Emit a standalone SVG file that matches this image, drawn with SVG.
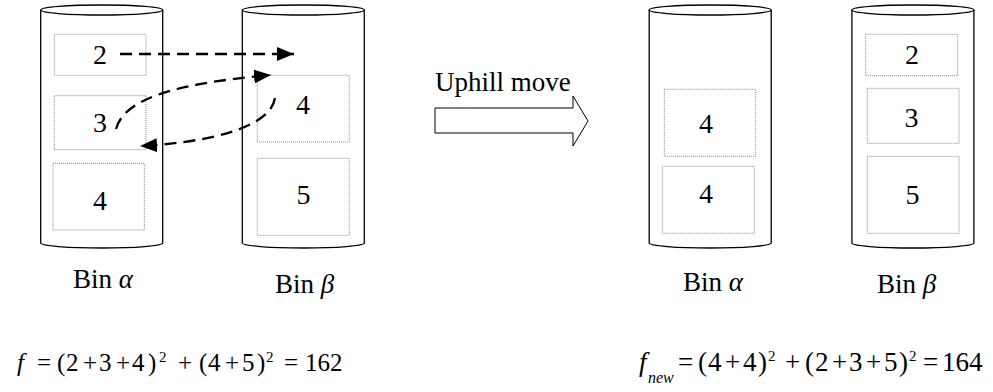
<svg xmlns="http://www.w3.org/2000/svg" width="993" height="392" viewBox="0 0 993 392">
<style>
  .cyl { fill: none; stroke: #000; stroke-width: 1.3; }
  .box { fill: none; stroke: #888; stroke-width: 1; stroke-dasharray: 1 1; }
  .num { font-family: "Liberation Serif", "Times New Roman", serif; font-size: 28px; fill: #000; text-anchor: middle; }
  .lbl { font-family: "Liberation Serif", "Times New Roman", serif; font-size: 27px; fill: #000; }
  .gr { font-style: italic; }
  .fl { font-family: "Liberation Serif", "Times New Roman", serif; font-size: 25px; fill: #000; }
  .fr { font-family: "Liberation Serif", "Times New Roman", serif; font-size: 27px; fill: #000; }
  .it { font-style: italic; }
  .sup { font-size: 15px; }
  .conn { fill: none; stroke: #000; stroke-width: 2.3; stroke-dasharray: 12 7; }
</style>
<defs>
  <marker id="ah" markerUnits="userSpaceOnUse" markerWidth="17" markerHeight="14" refX="17" refY="7" orient="auto">
    <path d="M0,0 L17,7 L0,14 z" fill="#000"/>
  </marker>
</defs>

<g id="binA-left">
  <ellipse class="cyl" cx="101.7" cy="10" rx="61" ry="5"/>
  <path class="cyl" d="M40.7,10 L40.7,243 A61,5 0 0 0 162.7,243 L162.7,10"/>
  <text class="lbl" x="73" y="288">Bin <tspan class="gr">α</tspan></text>
</g>
<g id="item-2-left">
  <rect class="box" x="54.3" y="34.3" width="91.7" height="41"/>
  <text class="num" x="100" y="64">2</text>
</g>
<g id="item-3-left">
  <rect class="box" x="54.3" y="95.7" width="91.7" height="54"/>
  <text class="num" x="100" y="131.5">3</text>
</g>
<g id="item-4a-left">
  <rect class="box" x="53" y="163.3" width="91.3" height="66.7"/>
  <text class="num" x="100" y="210">4</text>
</g>

<g id="binB-left">
  <ellipse class="cyl" cx="303.3" cy="10" rx="61" ry="5"/>
  <path class="cyl" d="M242.3,10 L242.3,243 A61,5 0 0 0 364.3,243 L364.3,10"/>
  <text class="lbl" x="275" y="293">Bin <tspan class="gr">β</tspan></text>
</g>
<g id="item-4b-left">
  <rect class="box" x="257.3" y="75.3" width="92" height="66.7"/>
  <text class="num" x="303" y="114">4</text>
</g>
<g id="item-5-left">
  <rect class="box" x="257.3" y="158.3" width="92" height="77"/>
  <text class="num" x="303.5" y="204">5</text>
</g>

<g id="uphill">
  <text class="lbl" x="435" y="91">Uphill move</text>
  <path d="M435,108 L573,108 L573,96 L588,121 L573,146 L573,133 L435,133 z" fill="#fff" stroke="#000" stroke-width="1"/>
</g>

<g id="binA-right">
  <ellipse class="cyl" cx="710.2" cy="10" rx="61" ry="5"/>
  <path class="cyl" d="M649.2,10 L649.2,243 A61,5 0 0 0 771.2,243 L771.2,10"/>
  <text class="lbl" x="683" y="291">Bin <tspan class="gr">α</tspan></text>
</g>
<g id="item-4a-right">
  <rect class="box" x="664.3" y="89.3" width="91.4" height="67"/>
  <text class="num" x="706" y="133.3">4</text>
</g>
<g id="item-4b-right">
  <rect class="box" x="662.3" y="166.3" width="92" height="67"/>
  <text class="num" x="706" y="203.3">4</text>
</g>

<g id="binB-right">
  <ellipse class="cyl" cx="912.9" cy="10" rx="61" ry="5"/>
  <path class="cyl" d="M851.9,10 L851.9,243 A61,5 0 0 0 973.9,243 L973.9,10"/>
  <text class="lbl" x="877" y="293">Bin <tspan class="gr">β</tspan></text>
</g>
<g id="item-2-right">
  <rect class="box" x="865.7" y="34.3" width="92" height="41.4"/>
  <text class="num" x="912" y="64">2</text>
</g>
<g id="item-3-right">
  <rect class="box" x="867.3" y="88.3" width="91.7" height="55"/>
  <text class="num" x="911.5" y="126.7">3</text>
</g>
<g id="item-5-right">
  <rect class="box" x="867.3" y="156.3" width="91.7" height="77"/>
  <text class="num" x="912.5" y="204">5</text>
</g>

<g id="connectors">
  <path class="conn" d="M120,54 L294,54" marker-end="url(#ah)"/>
  <path class="conn" d="M116,129 C124,100 170,84 271,75" marker-end="url(#ah)"/>
  <path class="conn" d="M275,98 C270,130 200,143 140,146" marker-end="url(#ah)"/>
</g>

<g id="formula-left">
  <text class="fl" y="371"><tspan class="it" x="17">f</tspan><tspan x="37">=</tspan><tspan x="57">(</tspan><tspan x="66">2</tspan><tspan x="83">+</tspan><tspan x="99">3</tspan><tspan x="116">+</tspan><tspan x="132">4</tspan><tspan x="148">)</tspan><tspan class="sup" x="159" y="362">2</tspan><tspan x="178" y="371">+</tspan><tspan x="199">(</tspan><tspan x="208">4</tspan><tspan x="225">+</tspan><tspan x="242">5</tspan><tspan x="257">)</tspan><tspan class="sup" x="266" y="362">2</tspan><tspan x="284" y="371">=</tspan><tspan x="305">162</tspan></text>
</g>
<g id="formula-right">
  <text class="fr" y="371"><tspan class="it" x="639">f</tspan><tspan class="it" x="648" y="383" font-size="16">new</tspan><tspan x="678" y="371">=</tspan><tspan x="698">(</tspan><tspan x="708">4</tspan><tspan x="725">+</tspan><tspan x="743">4</tspan><tspan x="758">)</tspan><tspan class="sup" x="768" y="361">2</tspan><tspan x="785" y="371">+</tspan><tspan x="805">(</tspan><tspan x="815">2</tspan><tspan x="832">+</tspan><tspan x="849">3</tspan><tspan x="866">+</tspan><tspan x="884">5</tspan><tspan x="899">)</tspan><tspan class="sup" x="909" y="361">2</tspan><tspan x="923" y="371">=</tspan><tspan x="942">164</tspan></text>
</g>
</svg>
